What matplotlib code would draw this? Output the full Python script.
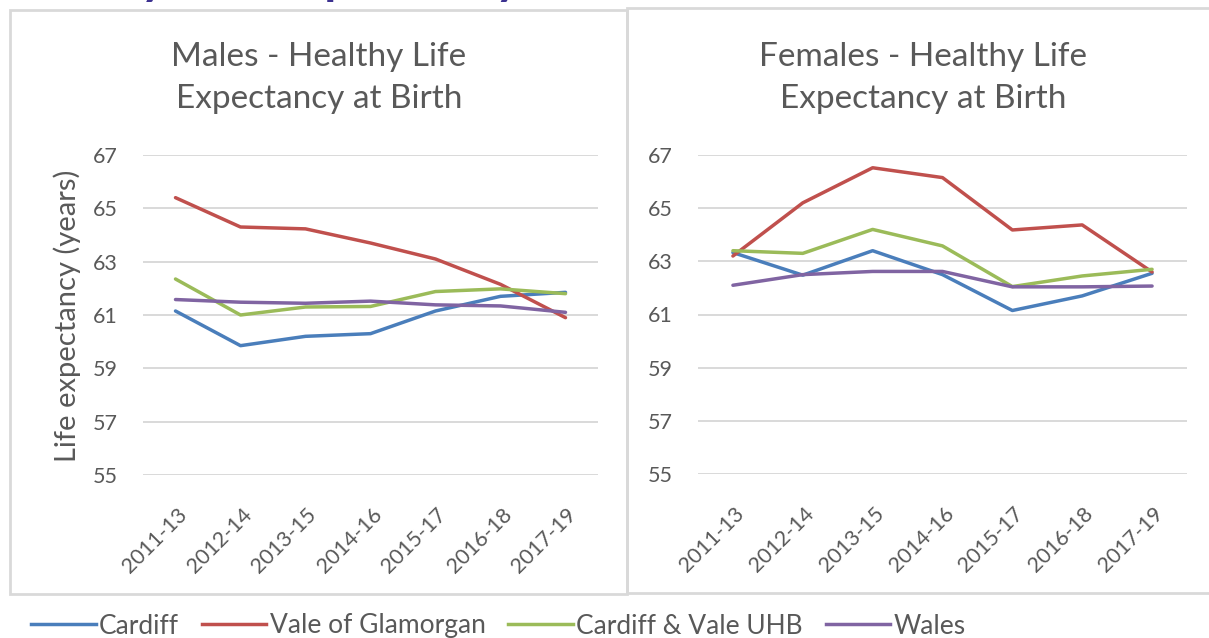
import matplotlib
matplotlib.use('Agg')
import matplotlib.pyplot as plt
import matplotlib.transforms as mtransforms
from matplotlib.patches import Rectangle
from matplotlib.lines import Line2D

plt.rcParams['font.family'] = ['Lato', 'DejaVu Sans']

# data
periods = ['2011-13', '2012-14', '2013-15', '2014-16', '2015-17', '2016-18', '2017-19']
series_names = ['Cardiff', 'Vale of Glamorgan', 'Cardiff & Vale UHB', 'Wales']
series_colors = ['#4A7EBB', '#C0504D', '#9BBB59', '#8064A2']

males_cardiff = [61.15, 59.85, 60.2, 60.3, 61.15, 61.7, 61.85]
males_vale = [65.4, 64.3, 64.23, 63.7, 63.1, 62.15, 60.9]
males_uhb = [62.35, 61.0, 61.3, 61.32, 61.88, 61.98, 61.8]
males_wales = [61.58, 61.48, 61.44, 61.52, 61.38, 61.34, 61.1]

females_cardiff = [63.33, 62.48, 63.4, 62.5, 61.15, 61.7, 62.55]
females_vale = [63.2, 65.2, 66.52, 66.15, 64.18, 64.37, 62.6]
females_uhb = [63.4, 63.3, 64.2, 63.58, 62.05, 62.45, 62.7]
females_wales = [62.1, 62.5, 62.62, 62.62, 62.04, 62.04, 62.07]

yticks = [55, 57, 59, 61, 63, 65, 67]

W, H = 1209, 638
TEXT = '#595959'
GRID = '#D9D9D9'

fig = plt.figure(figsize=(W / 100, H / 100), dpi=100)
fig.patch.set_facecolor('white')


def fx(px):
    return px / W


def fy(py):
    return 1 - py / H


# panel frames
fig.patches.append(Rectangle((fx(10), fy(594)), fx(617), 584 / H, transform=fig.transFigure,
                             fill=False, edgecolor=GRID, linewidth=2, zorder=0))
fig.patches.append(Rectangle((fx(627), fy(593)), fx(600), 585 / H, transform=fig.transFigure,
                             fill=False, edgecolor=GRID, linewidth=2, zorder=0))

# heading above the charts, cut off by the top edge as in the reference
fig.text(fx(-5), 1 + 6 / H, 'Healthy Life Expectancy', fontsize=35, fontweight='bold',
         color='#3C3190', ha='left', va='baseline')

ax_m = fig.add_axes([fx(143), fy(475), fx(455), 320 / H])
ax_f = fig.add_axes([fx(698), fy(474), fx(489), 319 / H])

panels = [
    (ax_m, [males_cardiff, males_vale, males_uhb, males_wales], 'Males - Healthy Life\nExpectancy at Birth', 319),
    (ax_f, [females_cardiff, females_vale, females_uhb, females_wales], 'Females - Healthy Life\nExpectancy at Birth', 923),
]

x = list(range(len(periods)))
for ax, data, title, tx in panels:
    for vals, name, col in zip(data, series_names, series_colors):
        ax.plot(x, vals, color=col, linewidth=2.5, label=name, solid_capstyle='round', zorder=3)
    ax.set_xlim(-0.5, len(periods) - 0.5)
    ax.set_ylim(55, 67)
    ax.set_yticks(yticks)
    ax.set_yticklabels([str(t) for t in yticks])
    ax.grid(axis='y', color=GRID, linewidth=1.4)
    ax.set_axisbelow(True)
    for s in ax.spines.values():
        s.set_visible(False)
    ax.tick_params(axis='both', length=0, labelsize=15.5, labelcolor=TEXT)
    ax.tick_params(axis='y', pad=18)
    ax.tick_params(axis='x', pad=21)
    ax.set_xticks(x)
    ax.set_xticklabels(periods, rotation=45, ha='right', va='top', rotation_mode='anchor')
    off = mtransforms.ScaledTranslation(1 / 100, 0, fig.dpi_scale_trans)
    for lab in ax.get_xticklabels():
        lab.set_transform(lab.get_transform() + off)
    fig.text(fx(tx), fy(78), title, fontsize=24, color=TEXT, ha='center', va='center', linespacing=1.5)

fig.text(fx(67), fy(316), 'Life expectancy (years)', fontsize=21, color=TEXT,
         rotation=90, ha='center', va='center')

handles = [Line2D([0], [0], color=c, linewidth=2.5) for c in series_colors]
leg = fig.legend(handles, series_names, loc='center left', bbox_to_anchor=(fx(31), fy(626)),
                 ncol=4, frameon=False, fontsize=19, handlelength=2.45, handletextpad=0.12,
                 columnspacing=0.87, borderaxespad=0, borderpad=0)
for t in leg.get_texts():
    t.set_color(TEXT)

fig.savefig('out.png', dpi=100)
